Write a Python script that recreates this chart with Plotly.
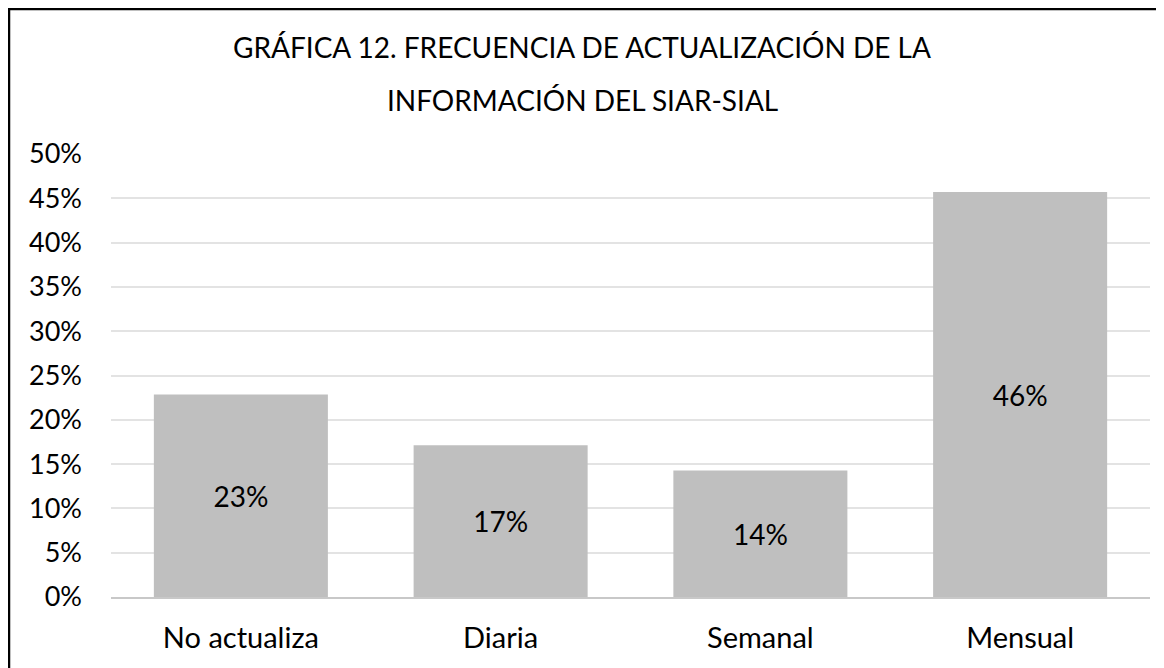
"""
plot.py - bar chart of how often the SIAR-SIAL information is updated
"""
import plotly.graph_objects as go

# chart data
CATEGORIES = ['No actualiza', 'Diaria', 'Semanal', 'Mensual']
SHARES = [0.2286, 0.1714, 0.1429, 0.4571]
LABELS = ['23%', '17%', '14%', '46%']
TITLE_LINES = ['GRÁFICA 12. FRECUENCIA DE ACTUALIZACIÓN DE LA',
               'INFORMACIÓN DEL SIAR-SIAL']

FONT = 'Lato'

# page puts the figure 8px in from the corner, so size it to fit the window
OFF = 8
W, H = 1164 - OFF, 668 - OFF
L, R, T, B = 111 - OFF, 14, 154 - OFF, 71
PW = W - L - R
PH = H - T - B


def px_x(x):
    return (x - OFF - L) / PW


def px_y(y):
    return (H - B - (y - OFF)) / PH


fig = go.Figure()
fig.add_trace(go.Bar(
    x=CATEGORIES, y=SHARES,
    text=LABELS, textposition='inside', insidetextanchor='middle',
    textfont=dict(family=FONT, size=28, color='black'),
    marker=dict(color='#BFBFBF', line=dict(width=0)),
    hoverinfo='x+y',
))

fig.update_layout(
    width=W, height=H,
    margin=dict(l=L, r=R, t=T, b=B),
    paper_bgcolor='white', plot_bgcolor='white',
    bargap=0.33,
    showlegend=False,
    font=dict(family=FONT, size=27, color='black'),
    xaxis=dict(showgrid=False, showline=True, linecolor='#C8C8C8', linewidth=1.5,
               ticks='', ticklabelstandoff=14,
               tickfont=dict(family=FONT, size=29, color='black')),
    yaxis=dict(range=[0, 0.5], dtick=0.05, tickformat='.0%',
               showgrid=True, gridcolor='#E3E3E3', gridwidth=1.5,
               zeroline=False, showline=False, ticks='', ticklabelstandoff=28,
               tickfont=dict(family=FONT, size=27, color='black')),
)

# two title lines, spaced like the original
for i, line in enumerate(TITLE_LINES):
    fig.add_annotation(text=line, xref='paper', yref='paper',
                       x=px_x(582), y=px_y(47 + 53 * i),
                       xanchor='center', yanchor='middle', showarrow=False,
                       font=dict(family=FONT, size=28, color='black'))

# black frame: only the left and top edges fall inside the picture
fig.add_shape(type='line', xref='paper', yref='paper',
              x0=px_x(9), x1=px_x(9), y0=px_y(680), y1=px_y(8),
              line=dict(color='black', width=2.5), layer='above')
fig.add_shape(type='line', xref='paper', yref='paper',
              x0=px_x(8), x1=px_x(1180), y0=px_y(9), y1=px_y(9),
              line=dict(color='black', width=2.5), layer='above')

fig.write_html("out.html")
